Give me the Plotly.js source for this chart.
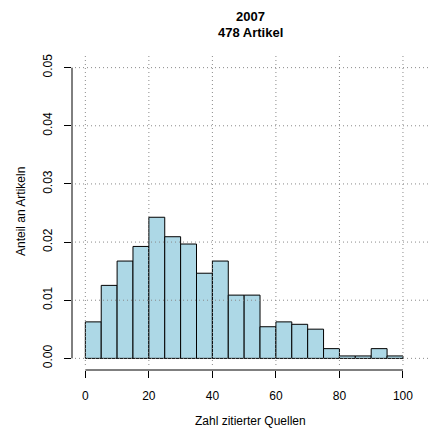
<!DOCTYPE html>
<html>
<head>
<meta charset="utf-8">
<script src="https://cdn.plot.ly/plotly-3.0.1.min.js"></script>
<style>
  html, body { margin: 0; padding: 0; background: #fff; }
  #chart { width: 430px; height: 430px; }
</style>
</head>
<body>
<div id="chart"></div>
<script>
// Histogram of cited sources per article, 2007 (bins of width 5)
const binLeft = [0, 5, 10, 15, 20, 25, 30, 35, 40, 45, 50, 55, 60, 65, 70, 75, 80, 85, 90, 95];
const binCounts = [15, 30, 40, 46, 58, 50, 47, 35, 40, 26, 26, 13, 15, 14, 12, 4, 1, 1, 4, 1];
const binWidth = 5;
const totalArticles = 478;
const xTicks = [0, 20, 40, 60, 80, 100];
const yTicks = [0, 0.01, 0.02, 0.03, 0.04, 0.05];
const yTickLabels = ['0.00', '0.01', '0.02', '0.03', '0.04', '0.05'];
const titleLines = ['2007', totalArticles + ' Artikel'];

// density = share of articles per unit width
const density = binCounts.map(c => c / (totalArticles * binWidth));

const font = 'Liberation Sans, Arial, Helvetica, sans-serif';

const trace = {
  type: 'bar',
  x: binLeft,
  y: density,
  width: binWidth,
  offset: 0,
  marker: { color: '#ADD8E6', line: { color: '#000', width: 1 } },
  hoverinfo: 'x+y'
};

// plot area in pixels: left 72, right 429, top 56, bottom 370
const pxToPaperY = py => (370 - py) / 314;
const pxToPaperX = px => (px - 72) / 357;

const gridLine = { color: '#8a8a8a', width: 1, dash: '1px,3px' };

// dotted grid on top of the bars
const shapes = [];
xTicks.forEach(v => shapes.push({
  type: 'line', layer: 'above', xref: 'x', yref: 'paper',
  x0: v, x1: v, y0: pxToPaperY(365), y1: pxToPaperY(55),
  line: gridLine
}));
yTicks.forEach(v => shapes.push({
  type: 'line', layer: 'above', xref: 'paper', yref: 'y',
  x0: pxToPaperX(75), x1: 1, y0: v, y1: v,
  line: gridLine
}));
// axis lines spanning only the tick range
shapes.push({
  type: 'line', layer: 'above', xref: 'x', yref: 'paper',
  x0: xTicks[0], x1: xTicks[xTicks.length - 1], y0: 0, y1: 0,
  line: { color: '#000', width: 1 }
});
shapes.push({
  type: 'line', layer: 'above', xref: 'paper', yref: 'y',
  x0: 0, x1: 0, y0: yTicks[0], y1: yTicks[yTicks.length - 1],
  line: { color: '#000', width: 1 }
});

const layout = {
  width: 430,
  height: 430,
  margin: { l: 72, r: 1, t: 56, b: 60 },
  paper_bgcolor: '#fff',
  plot_bgcolor: '#fff',
  showlegend: false,
  bargap: 0,
  font: { family: font, size: 12, color: '#000' },
  xaxis: {
    range: [-4.2, 108.2],
    tickvals: xTicks,
    ticktext: xTicks.map(String),
    ticks: 'outside', ticklen: 7, tickwidth: 1, tickcolor: '#000',
    ticklabelstandoff: 8,
    showline: false, showgrid: false, zeroline: false,
    tickfont: { family: font, size: 12, color: '#000' },
    fixedrange: true
  },
  yaxis: {
    range: [-0.002, 0.052],
    tickvals: yTicks,
    ticktext: yTickLabels,
    tickangle: -90,
    ticks: 'outside', ticklen: 7, tickwidth: 1, tickcolor: '#000',
    ticklabelstandoff: 7,
    showline: false, showgrid: false, zeroline: false,
    tickfont: { family: font, size: 12, color: '#000' },
    fixedrange: true
  },
  annotations: [
    {
      text: '<b>' + titleLines[0] + '</b>', xref: 'paper', yref: 'paper',
      x: 0.5, y: pxToPaperY(17), xanchor: 'center', yanchor: 'middle',
      showarrow: false, font: { family: font, size: 13, color: '#000' }
    },
    {
      text: '<b>' + titleLines[1] + '</b>', xref: 'paper', yref: 'paper',
      x: 0.5, y: pxToPaperY(33), xanchor: 'center', yanchor: 'middle',
      showarrow: false, font: { family: font, size: 13, color: '#000' }
    },
    {
      text: 'Zahl zitierter Quellen', xref: 'paper', yref: 'paper',
      x: 0.5, y: pxToPaperY(421), xanchor: 'center', yanchor: 'middle',
      showarrow: false, font: { family: font, size: 12, color: '#000' }
    },
    {
      text: 'Anteil an Artikeln', xref: 'paper', yref: 'paper',
      x: pxToPaperX(21), y: pxToPaperY(212), xanchor: 'center', yanchor: 'middle',
      textangle: -90,
      showarrow: false, font: { family: font, size: 12, color: '#000' }
    }
  ],
  shapes: shapes
};

Plotly.newPlot('chart', [trace], layout, { displayModeBar: false, staticPlot: true });
</script>
</body>
</html>
